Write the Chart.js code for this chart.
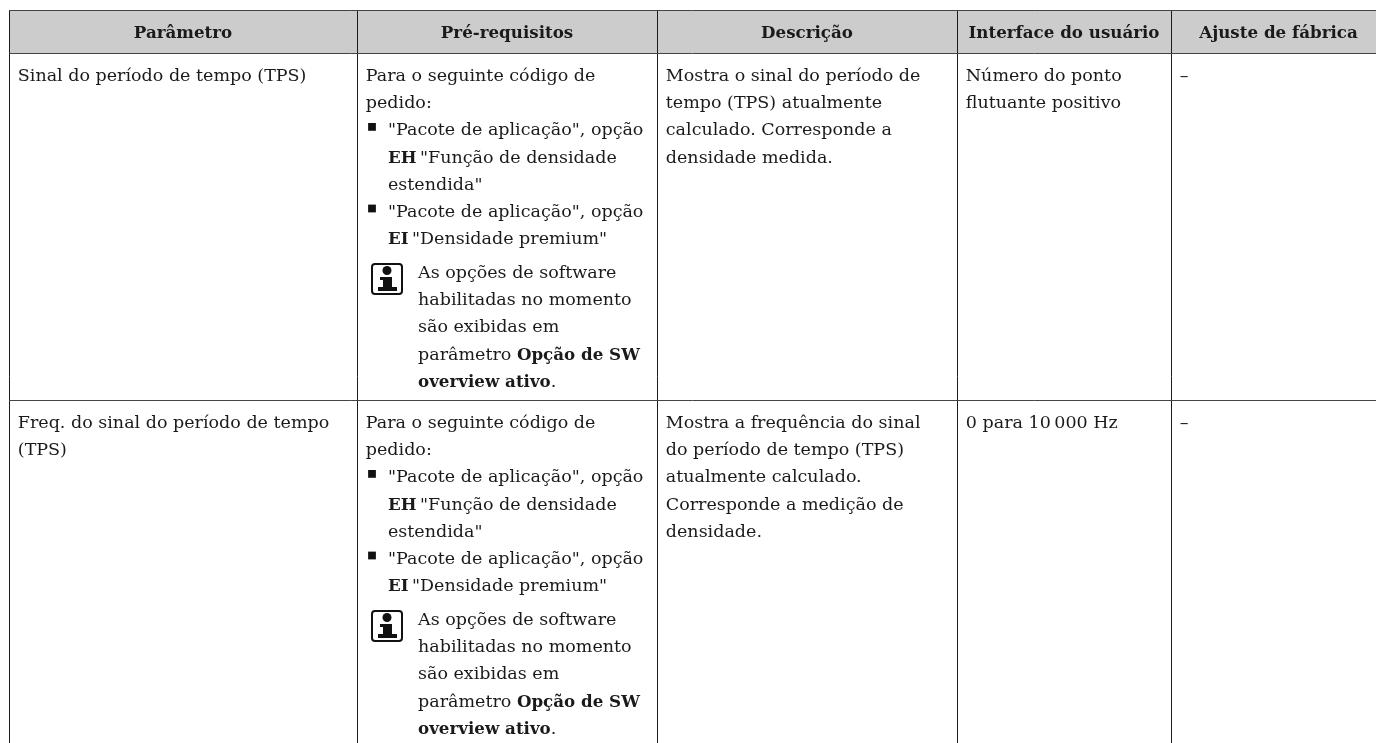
<!DOCTYPE html>
<html>
<head>
<meta charset="utf-8">
<style>
  html, body { margin: 0; padding: 0; background: #fff; }
  canvas { display: block; }
</style>
<script src="https://cdn.jsdelivr.net/npm/chart.js@4"></script>
</head>
<body>
<canvas id="myChart" width="1376" height="743"></canvas>
<script>
// table content
var columns = ["Parâmetro", "Pré-requisitos", "Descrição", "Interface do usuário", "Ajuste de fábrica"];
var columnEdges = [9, 357, 657, 957, 1171];
var rowEdges = [10, 53, 400];

var parameterText = [
  ["Sinal do período de tempo (TPS)"],
  ["Freq. do sinal do período de tempo", "(TPS)"]
];
var introText = ["Para o seguinte código de", "pedido:"];
var bulletText = [
  ["\"Pacote de aplicação\", opção", "*EH*\u2009\"Função de densidade", "estendida\""],
  ["\"Pacote de aplicação\", opção", "*EI*\u2009\"Densidade premium\""]
];
var noteText = [
  "As opções de software",
  "habilitadas no momento",
  "são exibidas em",
  "parâmetro *Opção de SW*",
  "*overview ativo*."
];
var descriptionText = [
  ["Mostra o sinal do período de", "tempo (TPS) atualmente", "calculado. Corresponde a", "densidade medida."],
  ["Mostra a frequência do sinal", "do período de tempo (TPS)", "atualmente calculado.", "Corresponde a medição de", "densidade."]
];
var interfaceText = [
  ["Número do ponto", "flutuante positivo"],
  ["0 para 10\u2009000 Hz"]
];
var factoryText = ["–", "–"];

// layout of the text inside a cell
var lineHeight = 27.2;
var firstBaseline = 28;
var noteGap = 6.6;
var padX = 8.8;
var bulletTextX = 31;
var noteTextX = 61;
var tableRight = 1386; // last column runs past the edge of the page
var textFont = "DejaVu Serif";
var textSize = 17.5;
var boldSize = 16.7;
var ink = "#1a1a1a";

// bullets come out of the same line counting as the text
var bulletPoints = [];
for (var r = 1; r < rowEdges.length; r++) {
  var line = introText.length;
  for (var b = 0; b < bulletText.length; b++) {
    bulletPoints.push({
      x: columnEdges[1] + 15,
      y: rowEdges[r] + firstBaseline + line * lineHeight - 8.5
    });
    line += bulletText[b].length;
  }
}

// text with *...* gets drawn bold
function drawLine(ctx, text, x, y) {
  var parts = text.split("*");
  for (var i = 0; i < parts.length; i++) {
    if (parts[i] === "") continue;
    ctx.font = i % 2 ? "bold " + boldSize + "px '" + textFont + "'" : textSize + "px '" + textFont + "'";
    ctx.fillText(parts[i], x, y);
    x += ctx.measureText(parts[i]).width;
  }
}

function drawLines(ctx, lines, x, y) {
  for (var i = 0; i < lines.length; i++) {
    drawLine(ctx, lines[i], x, y + i * lineHeight);
  }
}

function drawInfoIcon(ctx, x, y) {
  ctx.save();
  ctx.strokeStyle = "#111";
  ctx.fillStyle = "#111";
  ctx.lineWidth = 2;
  ctx.beginPath();
  ctx.roundRect(x + 1, y + 1, 30, 30, 3);
  ctx.stroke();
  ctx.beginPath();
  ctx.arc(x + 16, y + 7.5, 4.5, 0, Math.PI * 2);
  ctx.fill();
  ctx.fillRect(x + 9, y + 14, 12, 3);
  ctx.fillRect(x + 12, y + 14, 9, 11);
  ctx.fillRect(x + 7, y + 24, 19, 4);
  ctx.restore();
}

var tableText = {
  id: "tableText",
  afterDraw: function (chart) {
    var ctx = chart.ctx;
    var xs = chart.scales.x;
    var ys = chart.scales.y;
    ctx.save();
    ctx.fillStyle = ink;
    ctx.textBaseline = "alphabetic";

    // header
    ctx.textAlign = "center";
    ctx.font = "bold " + boldSize + "px '" + textFont + "'";
    for (var c = 0; c < columns.length; c++) {
      var left = xs.getPixelForValue(columnEdges[c]);
      var right = xs.getPixelForValue(c + 1 < columnEdges.length ? columnEdges[c + 1] : tableRight);
      ctx.fillText(columns[c], (left + right) / 2, ys.getPixelForValue(38));
    }

    // rows
    ctx.textAlign = "left";
    for (var r = 0; r < parameterText.length; r++) {
      var y = ys.getPixelForValue(rowEdges[r + 1] + firstBaseline);
      drawLines(ctx, parameterText[r], xs.getPixelForValue(columnEdges[0]) + padX, y);

      var x2 = xs.getPixelForValue(columnEdges[1]);
      drawLines(ctx, introText, x2 + padX, y);
      var n = introText.length;
      for (var b = 0; b < bulletText.length; b++) {
        drawLines(ctx, bulletText[b], x2 + bulletTextX, y + n * lineHeight);
        n += bulletText[b].length;
      }
      var noteY = y + n * lineHeight + noteGap;
      drawInfoIcon(ctx, x2 + 14, noteY - 15);
      drawLines(ctx, noteText, x2 + noteTextX, noteY);

      drawLines(ctx, descriptionText[r], xs.getPixelForValue(columnEdges[2]) + padX, y);
      drawLines(ctx, interfaceText[r], xs.getPixelForValue(columnEdges[3]) + padX, y);
      drawLine(ctx, factoryText[r], xs.getPixelForValue(columnEdges[4]) + padX, y);
    }
    ctx.restore();
  }
};

function gridAxis(edges, min, max, reverse, color) {
  return {
    type: "linear",
    min: min,
    max: max,
    reverse: reverse,
    afterBuildTicks: function (axis) {
      axis.ticks = edges.map(function (v) { return { value: v }; });
    },
    ticks: { display: false },
    border: { display: false },
    grid: { color: color, lineWidth: 1, drawTicks: false, z: 1 }
  };
}

var chart = new Chart("myChart", {
  type: "line",
  data: {
    datasets: [
      {
        // header band
        data: [{ x: columnEdges[0], y: rowEdges[0] }, { x: 1376, y: rowEdges[0] }],
        fill: { value: rowEdges[1] },
        backgroundColor: "#cccccc",
        borderWidth: 0,
        pointRadius: 0
      },
      {
        data: bulletPoints,
        showLine: false,
        pointStyle: "rect",
        pointRadius: 5.5,
        pointBackgroundColor: "#111",
        pointBorderWidth: 0
      }
    ]
  },
  options: {
    responsive: false,
    animation: false,
    layout: { autoPadding: false, padding: { left: 9, top: 10, right: 0, bottom: 0 } },
    plugins: { legend: { display: false }, tooltip: { enabled: false } },
    scales: {
      x: gridAxis(columnEdges, 9, 1376, false, "#1c1c1c"),
      y: gridAxis(rowEdges, 10, 743, true, "#444")
    }
  },
  plugins: [tableText]
});
</script>
</body>
</html>
